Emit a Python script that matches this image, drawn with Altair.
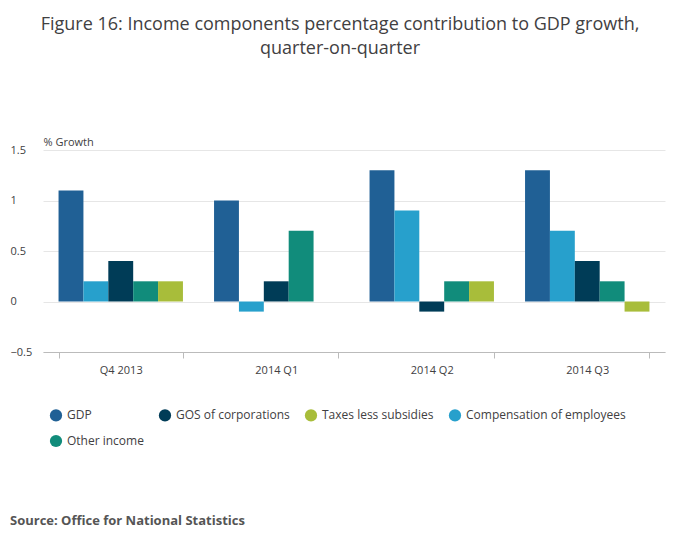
import altair as alt
import pandas as pd

quarters = ["Q4 2013", "2014 Q1", "2014 Q2", "2014 Q3"]
series = ["GDP", "Compensation of employees", "GOS of corporations", "Other income", "Taxes less subsidies"]
colors = ["#206095", "#27a0cc", "#003c57", "#118c7b", "#a8bd3a"]
values = {
    "GDP": [1.1, 1.0, 1.3, 1.3],
    "Compensation of employees": [0.2, -0.1, 0.9, 0.7],
    "GOS of corporations": [0.4, 0.2, -0.1, 0.4],
    "Other income": [0.2, 0.7, 0.2, 0.2],
    "Taxes less subsidies": [0.2, 0.0, 0.2, -0.1],
}

rows = []
for s in series:
    for q, v in zip(quarters, values[s]):
        rows.append({"quarter": q, "series": s, "value": v})
df = pd.DataFrame(rows)

font = "Open Sans"

bars = alt.Chart(df).mark_bar().encode(
    x=alt.X("quarter:N", sort=quarters, title=None,
            scale=alt.Scale(paddingInner=0.2, paddingOuter=0.1),
            axis=alt.Axis(labelAngle=0, tickBand="extent", domainColor="#bbbbbb",
                          tickColor="#bbbbbb", tickSize=6, labelPadding=6,
                          labelFontSize=11, labelColor="#414042")),
    xOffset=alt.XOffset("series:N", sort=series),
    y=alt.Y("value:Q", title="% Growth",
            scale=alt.Scale(domain=[-0.5, 1.5]),
            axis=alt.Axis(values=[-0.5, 0, 0.5, 1, 1.5], format="~g", domain=False, ticks=False,
                          labelAlign="left", labelPadding=33, gridColor="#e6e6e6",
                          labelFontSize=11, labelColor="#414042",
                          titleAngle=0, titleAlign="left", titleX=0, titleY=-3,
                          titleFontWeight="normal", titleFontSize=11,
                          titleColor="#414042", titleBaseline="bottom")),
    color=alt.Color("series:N", sort=series,
                    scale=alt.Scale(domain=series, range=colors),
                    legend=alt.Legend(title=None, orient="none", legendX=6, legendY=258,
                                      columns=4, symbolType="circle", symbolSize=150,
                                      labelFontSize=12, labelColor="#414042",
                                      columnPadding=14, rowPadding=12)),
)

source = alt.Chart(pd.DataFrame({"t": ["Source: Office for National Statistics"]})).mark_text(
    align="left", baseline="middle", fontSize=13, fontWeight="bold",
    color="#555555", font=font
).encode(text="t:N", x=alt.value(-33), y=alt.value(371))

chart = (bars + source).properties(
    width=622, height=202,
    autosize=alt.AutoSizeParams(type="none"),
    padding={"left": 35, "top": 142, "right": 27, "bottom": 189},
    title=alt.TitleParams(
        ["Figure 16: Income components percentage contribution to GDP growth,",
         "quarter-on-quarter"],
        anchor="middle", fontSize=18, fontWeight="normal", color="#414042",
        font=font, offset=78, dx=-14, lineHeight=24),
).configure(font=font).configure_view(stroke=None)

chart.save("out.html", embed_options={"renderer": "svg", "actions": False})
